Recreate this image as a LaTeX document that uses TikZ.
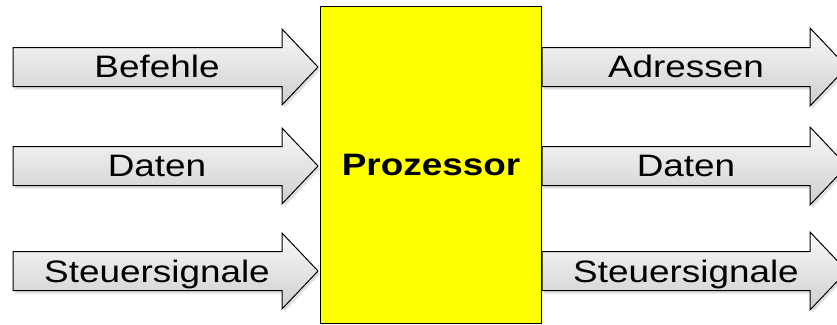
\documentclass[tikz,border=0pt]{standalone}
\usepackage{fontspec}
\setmainfont{Liberation Sans}
\newfontfamily\lblfont[FakeStretch=1.19]{Liberation Sans}
\usetikzlibrary{shadows}
\definecolor{procyellow}{RGB}{255,255,0}

% block arrow: left x, head start x, tip x, centre y, half body, half head
\newcommand\blockarrow[6]{%
  \draw[fatarrow] (#1,#4-#5) -- (#2,#4-#5) -- (#2,#4-#6) -- (#3,#4)
    -- (#2,#4+#6) -- (#2,#4+#5) -- (#1,#4+#5) -- cycle;}

\begin{document}
\begin{tikzpicture}[x=1pt,y=-1pt,
  fatarrow/.style={draw=black, line width=1pt, line join=miter,
    top color=gray!5, bottom color=gray!38,
    drop shadow={opacity=0.25, shadow xshift=2pt, shadow yshift=-3pt}},
  lbl/.style={font=\lblfont\fontsize{31}{31}\selectfont, text=black,
    inner sep=0pt, anchor=base},
  procbox/.style={draw=black, line width=1.5pt, fill=procyellow,
    minimum width=221pt, minimum height=317pt, inner sep=0pt,
    font=\lblfont\bfseries\fontsize{31}{31}\selectfont}]

\useasboundingbox (0,0) rectangle (837,324);
\clip (0,0) rectangle (837,324);

% input arrows
\blockarrow{13}{282}{318}{67}{19.5}{38}
\blockarrow{13}{282}{318}{166}{19.5}{38}
\blockarrow{13}{282}{318}{271}{19.5}{38}

% output arrows
\blockarrow{542}{810}{847}{67}{19.5}{39}
\blockarrow{542}{810}{847}{166}{19.5}{39}
\blockarrow{542}{810}{847}{271}{19.5}{39}

% processor
\node[procbox] (cpu) at (431,165) {Prozessor};

% labels
\node[lbl] (inbef) at (157,77.5) {Befehle};
\node[lbl] (indat) at (157,176.5) {Daten};
\node[lbl] (instr) at (157,282) {Steuersignale};
\node[lbl] (outadr) at (686,77.5) {Adressen};
\node[lbl] (outdat) at (686,176.5) {Daten};
\node[lbl] (outstr) at (686,282) {Steuersignale};
\end{tikzpicture}
\end{document}
